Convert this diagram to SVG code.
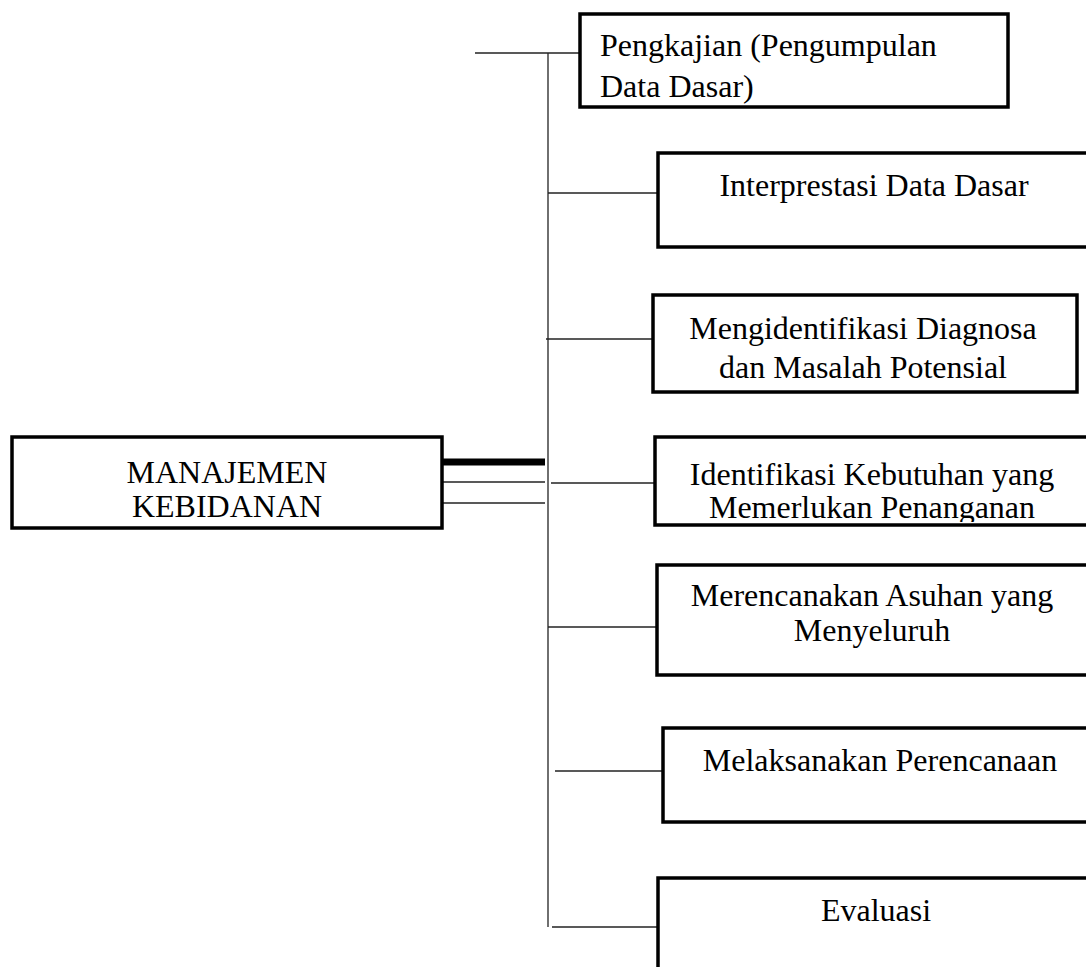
<svg xmlns="http://www.w3.org/2000/svg" width="1086" height="967" viewBox="0 0 1086 967">
<style>
.box{fill:#fff;stroke:#000;stroke-width:3.5}
.t{font-family:"Liberation Serif","Times New Roman",serif;font-size:32px;fill:#000}
.c{text-anchor:middle}
.ln{stroke:#222;stroke-width:1.3;fill:none}
</style>
<defs>
<clipPath id="clipIdent"><rect x="656" y="438" width="440" height="84"/></clipPath>
</defs>
<rect width="1086" height="967" fill="#fff"/>
<g id="connectors">
<line class="ln" x1="548" y1="53" x2="548" y2="927"/>
<line class="ln" x1="475" y1="53" x2="580" y2="53"/>
<line class="ln" x1="548" y1="193" x2="658" y2="193"/>
<line class="ln" x1="546" y1="339" x2="653" y2="339"/>
<line class="ln" x1="551" y1="483" x2="655" y2="483"/>
<line class="ln" x1="548" y1="627" x2="657" y2="627"/>
<line class="ln" x1="555" y1="771" x2="663" y2="771"/>
<line class="ln" x1="552" y1="927" x2="658" y2="927"/>
<line x1="440" y1="462" x2="545" y2="462" stroke="#000" stroke-width="7"/>
<line class="ln" x1="440" y1="482" x2="545" y2="482"/>
<line class="ln" x1="440" y1="503" x2="545" y2="503"/>
</g>
<g id="manajemen">
<rect class="box" x="12" y="437" width="430" height="91"/>
<text class="t c" x="227" y="483">MANAJEMEN</text>
<text class="t c" x="227" y="517">KEBIDANAN</text>
</g>
<g id="pengkajian">
<rect class="box" x="580" y="14" width="428" height="93"/>
<text class="t" x="600" y="56">Pengkajian (Pengumpulan</text>
<text class="t" x="600" y="97">Data Dasar)</text>
</g>
<g id="interprestasi">
<rect class="box" x="658" y="153" width="440" height="94"/>
<text class="t c" x="874" y="196">Interprestasi Data Dasar</text>
</g>
<g id="diagnosa">
<rect class="box" x="653" y="295" width="424" height="97"/>
<text class="t c" x="863" y="339">Mengidentifikasi Diagnosa</text>
<text class="t c" x="863" y="378">dan Masalah Potensial</text>
</g>
<g id="kebutuhan">
<rect class="box" x="655" y="437" width="440" height="88"/>
<g clip-path="url(#clipIdent)">
<text class="t c" x="872" y="485">Identifikasi Kebutuhan yang</text>
<text class="t c" x="872" y="518">Memerlukan Penanganan</text>
</g>
</g>
<g id="merencanakan">
<rect class="box" x="657" y="565" width="440" height="110"/>
<text class="t c" x="872" y="606">Merencanakan Asuhan yang</text>
<text class="t c" x="872" y="641">Menyeluruh</text>
</g>
<g id="melaksanakan">
<rect class="box" x="663" y="728" width="440" height="94"/>
<text class="t c" x="880" y="771">Melaksanakan Perencanaan</text>
</g>
<g id="evaluasi">
<rect class="box" x="658" y="878" width="440" height="100"/>
<text class="t c" x="876" y="921">Evaluasi</text>
</g>
</svg>
